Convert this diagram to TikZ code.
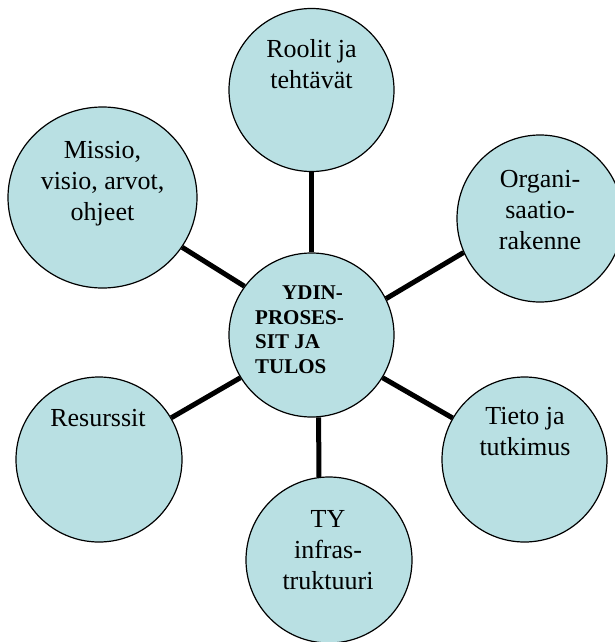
\documentclass[tikz,border=0pt]{standalone}
\usepackage{fontspec}
\setmainfont{Liberation Serif}
\usetikzlibrary{shapes.geometric}
\definecolor{bubble}{RGB}{185,224,227}
\tikzset{
  bub/.style={ellipse, draw=black, line width=1.2pt, fill=bubble, inner sep=0pt},
  lbl/.style={anchor=north, align=center, inner sep=0pt,
    font=\fontsize{26pt}{31pt}\selectfont},
  conn/.style={line width=5pt, draw=black}
}
\begin{document}
\begin{tikzpicture}[x=1pt,y=1pt]
\useasboundingbox (0,0) rectangle (615,-642);
% bubbles
\node[bub, minimum width=165pt, minimum height=163pt] (T)  at (311.5,-90) {};
\node[bub, minimum width=189pt, minimum height=181pt] (M)  at (102.5,-197.5) {};
\node[bub, minimum width=166pt, minimum height=167pt] (O)  at (540,-218.5) {};
\node[bub, minimum width=165pt, minimum height=164pt] (C)  at (311.5,-335) {};
\node[bub, minimum width=166pt, minimum height=165pt] (R)  at (99,-459.5) {};
\node[bub, minimum width=165pt, minimum height=165pt] (Ti) at (524.5,-459.5) {};
\node[bub, minimum width=166pt, minimum height=166pt] (TY) at (329,-560) {};
% labels
\node[lbl] (tT)  at (311.5,-39.3) {Roolit ja\\tehtävät};
\node[lbl] (tM)  at (102.5,-141.3) {Missio,\\visio, arvot,\\ohjeet};
\node[lbl] (tO)  at (540,-170.3) {Organi-\\saatio-\\rakenne};
\node[lbl] (tR)  at (98,-409.3) {Resurssit};
\node[lbl] (tTi) at (525,-407.3) {Tieto ja\\tutkimus};
\node[lbl] (tTY) at (328,-510.3) {TY\\infras-\\truktuuri};
\node[anchor=north west, align=left, inner sep=0pt,
  font=\fontsize{21pt}{24.5pt}\selectfont\bfseries] (tC) at (255,-285.7)
  {\hspace*{27pt}YDIN-\\PROSES-\\SIT JA\\TULOS};
% connectors
\draw[conn] (C.north) -- (T.south);
\draw[conn] (C.144) -- (M.-32);
\draw[conn] (C.26) -- (O.-156);
\draw[conn] (C.211) -- (R.30);
\draw[conn] (C.-31) -- (Ti.150);
\draw[conn] (C.-85.5) -- (TY.97);
\end{tikzpicture}
\end{document}
